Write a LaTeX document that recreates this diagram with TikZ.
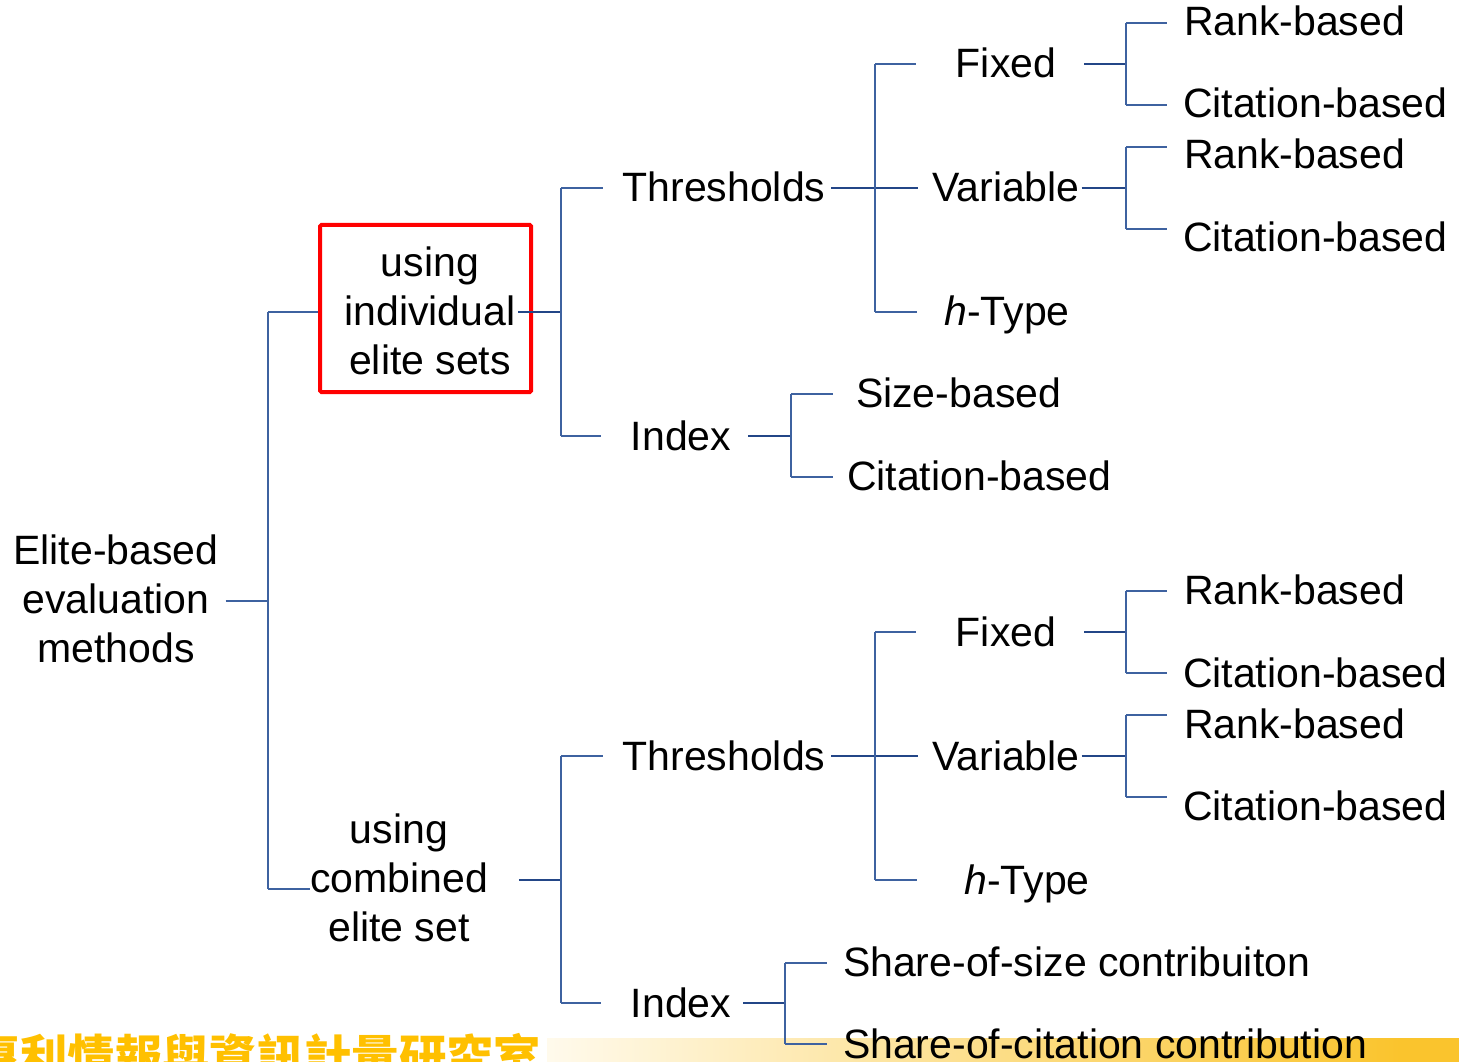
\documentclass[tikz,border=0pt]{standalone}
\usepackage{fontspec}
\setmainfont{Liberation Sans}
\newfontfamily\cjkfont{Noto Sans CJK TC}
\usetikzlibrary{calc}

\definecolor{stemblue}{RGB}{35,70,135}
\definecolor{twigblue}{RGB}{62,98,160}
\definecolor{cjkgold}{RGB}{255,192,0}
\definecolor{bandgold}{RGB}{250,196,45}
\definecolor{bandlight}{RGB}{255,250,236}
\newcommand\lbfont{\fontsize{30.75pt}{36.75pt}\selectfont}

\tikzset{
  lbl/.style={inner sep=0pt, outer sep=0pt, font=\lbfont, text=black},
  ctr/.style={lbl, anchor=base},
  lft/.style={lbl, anchor=base west},
  multi/.style={lbl, align=center, anchor=center},
  stem/.style={draw=stemblue, line width=1.6pt},
  twig/.style={draw=twigblue, line width=1.1pt},
  redbox/.style={draw=red, line width=3pt, rounded corners=1pt, minimum width=211*0.75pt, minimum height=167*0.75pt, inner sep=0pt},
}

\begin{document}
\begin{tikzpicture}[x=0.75pt, y=-0.75pt]
\useasboundingbox (0,0) rectangle (1459,1062);
\clip (0,0) rectangle (1459,1062);

% footer band and lab name
\shade[left color=bandlight, right color=bandgold] (547,1038) rectangle (1400,1062);
\fill[bandgold] (1399,1038) rectangle (1459,1062);
\node[anchor=base west, inner sep=0pt, text=cjkgold,
      font={\cjkfont\bfseries\fontsize{35.5pt}{40pt}\selectfont}] (lab) at (-27,1074) {專利情報與資訊計量研究室};

% labels
\node[multi] (root) at (116,599) {Elite-based\\evaluation\\methods};
\node[redbox] (indbox) at (425.5,308.5) {};
\node[multi] (ind) at (430,311) {using\\individual\\elite sets};
\node[multi] (comb) at (399,878) {using\\combined\\elite set};

\node[ctr] (th1) at (724,202) {Thresholds};
\node[ctr] (idx1) at (681,450) {Index};
\node[ctr] (fx1) at (1006,78) {Fixed};
\node[ctr] (var1) at (1006,202) {Variable};
\node[ctr] (ht1) at (1007,326) {\textit{h}-Type};
\node[lft] (rk1a) at (1184,36) {Rank-based};
\node[lft] (ct1a) at (1183,118) {Citation-based};
\node[lft] (rk1b) at (1184,169) {Rank-based};
\node[lft] (ct1b) at (1183,252) {Citation-based};
\node[lft] (sz1) at (856,407) {Size-based};
\node[lft] (ci1) at (847,490) {Citation-based};

\node[ctr] (th2) at (724,770) {Thresholds};
\node[ctr] (idx2) at (681,1017) {Index};
\node[ctr] (fx2) at (1006,646) {Fixed};
\node[ctr] (var2) at (1006,770) {Variable};
\node[ctr] (ht2) at (1027,894) {\textit{h}-Type};
\node[lft] (rk2a) at (1184,604) {Rank-based};
\node[lft] (ct2a) at (1183,687) {Citation-based};
\node[lft] (rk2b) at (1184,738) {Rank-based};
\node[lft] (ct2b) at (1183,820) {Citation-based};
\node[lft] (sh1) at (843,976) {Share-of-size contribuiton};
\node[lft] (sh2) at (843,1058) {Share-of-citation contribution};

% junction points
\coordinate (r0) at (268,601); \coordinate (r1) at (268,312); \coordinate (r2) at (268,889);
\coordinate (i0) at (561,312); \coordinate (i1) at (561,188); \coordinate (i2) at (561,436);
\coordinate (t0) at (875,188); \coordinate (t1) at (875,64);  \coordinate (t2) at (875,312);
\coordinate (f0) at (1126,64); \coordinate (f1) at (1126,23); \coordinate (f2) at (1126,105);
\coordinate (v0) at (1126,188); \coordinate (v1) at (1126,147); \coordinate (v2) at (1126,229);
\coordinate (x0) at (791,436); \coordinate (x1) at (791,394); \coordinate (x2) at (791,477);
\coordinate (c0) at (561,880); \coordinate (c1) at (561,756); \coordinate (c2) at (561,1003);
\coordinate (u0) at (875,756); \coordinate (u1) at (875,632); \coordinate (u2) at (875,880);
\coordinate (g0) at (1126,632); \coordinate (g1) at (1126,591); \coordinate (g2) at (1126,673);
\coordinate (w0) at (1126,756); \coordinate (w1) at (1126,715); \coordinate (w2) at (1126,797);
\coordinate (y0) at (785,1003); \coordinate (y1) at (785,963); \coordinate (y2) at (785,1044);

% root bracket
\draw[twig] ($(r0 -| root.east)+(7,0)$) -- (r0);
\draw[twig] (r1) -- (r2);
\draw[twig] (r1) -- (r1 -| indbox.west);
\draw[twig] (r2) -- (r2 -| comb.west);

% individual elite sets
\draw[stem] ($(i0 -| ind.east)+(3,0)$) -- (i0);
\draw[twig] (i1) -- (i2);
\draw[twig] (i1) -- ($(i1 -| th1.west)+(-20,0)$);
\draw[twig] (i2) -- ($(i2 -| idx1.west)+(-30,0)$);

\draw[stem] ($(t0 -| th1.east)+(6,0)$) -- ($(t0 -| var1.west)+(-14,0)$);
\draw[twig] (t1) -- (t2);
\draw[twig] (t1) -- ($(t1 -| fx1.west)+(-40,0)$);
\draw[twig] (t2) -- ($(t2 -| ht1.west)+(-27,0)$);

\draw[stem] ($(f0 -| fx1.east)+(28,0)$) -- (f0);
\draw[twig] (f1) -- (f2);
\draw[twig] (f1) -- ($(f1 -| rk1a.west)+(-17,0)$);
\draw[twig] (f2) -- ($(f2 -| ct1a.west)+(-16,0)$);

\draw[stem] ($(v0 -| var1.east)+(2,0)$) -- (v0);
\draw[twig] (v1) -- (v2);
\draw[twig] (v1) -- ($(v1 -| rk1b.west)+(-17,0)$);
\draw[twig] (v2) -- ($(v2 -| ct1b.west)+(-16,0)$);

\draw[stem] ($(x0 -| idx1.east)+(17,0)$) -- (x0);
\draw[twig] (x1) -- (x2);
\draw[twig] (x1) -- ($(x1 -| sz1.west)+(-23,0)$);
\draw[twig] (x2) -- ($(x2 -| ci1.west)+(-14,0)$);

% combined elite set
\draw[stem] ($(c0 -| comb.east)+(31,0)$) -- (c0);
\draw[twig] (c1) -- (c2);
\draw[twig] (c1) -- ($(c1 -| th2.west)+(-20,0)$);
\draw[twig] (c2) -- ($(c2 -| idx2.west)+(-30,0)$);

\draw[stem] ($(u0 -| th2.east)+(6,0)$) -- ($(u0 -| var2.west)+(-14,0)$);
\draw[twig] (u1) -- (u2);
\draw[twig] (u1) -- ($(u1 -| fx2.west)+(-40,0)$);
\draw[twig] (u2) -- ($(u2 -| ht2.west)+(-47,0)$);

\draw[stem] ($(g0 -| fx2.east)+(28,0)$) -- (g0);
\draw[twig] (g1) -- (g2);
\draw[twig] (g1) -- ($(g1 -| rk2a.west)+(-17,0)$);
\draw[twig] (g2) -- ($(g2 -| ct2a.west)+(-16,0)$);

\draw[stem] ($(w0 -| var2.east)+(2,0)$) -- (w0);
\draw[twig] (w1) -- (w2);
\draw[twig] (w1) -- ($(w1 -| rk2b.west)+(-17,0)$);
\draw[twig] (w2) -- ($(w2 -| ct2b.west)+(-16,0)$);

\draw[stem] ($(y0 -| idx2.east)+(12,0)$) -- (y0);
\draw[twig] (y1) -- (y2);
\draw[twig] (y1) -- ($(y1 -| sh1.west)+(-16,0)$);
\draw[twig] (y2) -- ($(y2 -| sh2.west)+(-16,0)$);
\end{tikzpicture}
\end{document}
